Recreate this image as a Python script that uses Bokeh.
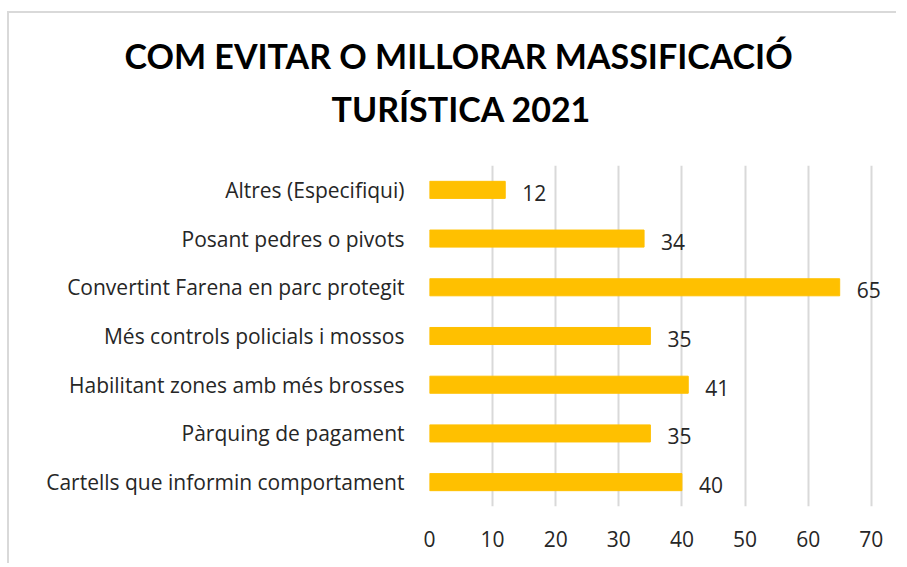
from bokeh.plotting import figure
from bokeh.models import Title, LabelSet, ColumnDataSource, FactorRange, Range1d, FixedTicker
from bokeh.core.properties import value
from bokeh.embed import file_html
from bokeh.resources import INLINE

categories = [
    "Altres (Especifiqui)",
    "Posant pedres o pivots",
    "Convertint Farena en parc protegit",
    "Més controls policials i mossos",
    "Habilitant zones amb més brosses",
    "Pàrquing de pagament",
    "Cartells que informin comportament",
]
values = [12, 34, 65, 35, 41, 35, 40]
x_ticks = [0, 10, 20, 30, 40, 50, 60, 70]
title_line1 = "COM EVITAR O MILLORAR MASSIFICACIÓ"
title_line2 = "TURÍSTICA 2021"

FONT = "Open Sans"
TITLE_FONT = "Lato"
TEXT_COLOR = "#262626"
BAR_COLOR = "#FFC000"
GRID_COLOR = "#D9D9D9"

y_order = list(reversed(categories))
src = ColumnDataSource(dict(cat=categories, val=values, lab=[str(v) for v in values]))

p = figure(
    width=889, height=552,
    y_range=FactorRange(*y_order, range_padding=0),
    x_range=Range1d(0, 74),
    output_backend="svg", toolbar_location=None,
    min_border_left=420, min_border_right=2,
    min_border_top=152, min_border_bottom=59,
)
p.styles = {"border-top": "2px solid #D9D9D9", "border-left": "2px solid #D9D9D9",
            "margin-top": "11px", "margin-left": "7px"}
p.outline_line_color = None
p.background_fill_color = "white"
p.border_fill_color = "white"

p.hbar(y="cat", right="val", left=0, height=0.35, color=BAR_COLOR, source=src)
p.add_layout(LabelSet(x="val", y="cat", text="lab", source=src, x_offset=17, y_offset=-3,
                      text_font=value(FONT), text_font_size="21px", text_color=TEXT_COLOR,
                      text_baseline="middle", text_align="left"))

p.xgrid.ticker = FixedTicker(ticks=x_ticks)
p.xgrid.grid_line_color = GRID_COLOR
p.xgrid.grid_line_width = 2
p.ygrid.grid_line_color = None

p.xaxis.ticker = FixedTicker(ticks=x_ticks)
p.xaxis.axis_line_color = None
p.xaxis.major_tick_line_color = None
p.xaxis.minor_tick_line_color = None
p.xaxis.major_label_text_font = FONT
p.xaxis.major_label_text_font_size = "21px"
p.xaxis.major_label_text_color = TEXT_COLOR
p.xaxis.major_label_standoff = 18

p.yaxis.axis_line_color = None
p.yaxis.major_tick_line_color = None
p.yaxis.minor_tick_line_color = None
p.yaxis.major_label_text_font = FONT
p.yaxis.major_label_text_font_size = "21px"
p.yaxis.major_label_text_color = TEXT_COLOR
p.yaxis.major_label_standoff = 19

# titles: spacer nearest the frame, then line 2, then line 1
p.add_layout(Title(text=" ", text_font_size="18px"), "above")
p.add_layout(Title(text=title_line2, align="left", offset=331 - 429,
                   text_font=TITLE_FONT, text_font_size="34px", text_font_style="bold",
                   text_color="black"), "above")
p.add_layout(Title(text=title_line1, align="left", offset=124 - 429,
                   text_font=TITLE_FONT, text_font_size="34px", text_font_style="bold",
                   text_color="black"), "above")

open("out.html", "w").write(file_html(p, INLINE))
